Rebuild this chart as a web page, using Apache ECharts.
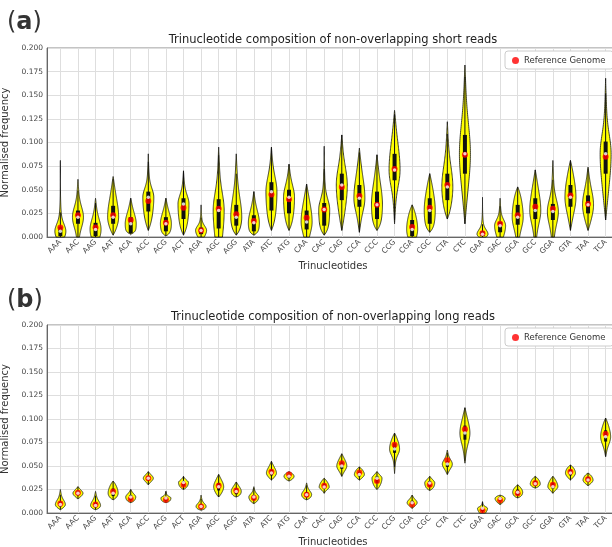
<!DOCTYPE html>
<html><head><meta charset="utf-8">
<script src="https://cdn.jsdelivr.net/npm/echarts@6/dist/echarts.min.js"></script>
<style>html,body{margin:0;padding:0;background:#fff}#c{width:612px;height:547px}</style>
</head><body><div id="c"></div>
<script>
const cats = ['AAA','AAC','AAG','AAT','ACA','ACC','ACG','ACT','AGA','AGC','AGG','ATA','ATC','ATG','CAA','CAC','CAG','CCA','CCC','CCG','CGA','CGC','CTA','CTC','GAA','GAC','GCA','GCC','GGA','GTA','TAA','TCA'];
const yTicks = [0,0.025,0.05,0.075,0.1,0.125,0.15,0.175,0.2];

// Panel (a): short reads
const shortMin = [0,0,0,.002,.003,.007,.001,.002,0,0,.002,.002,.007,.007,0,.002,.007,.005,.007,.014,0,.005,.019,.014,0,0,0,0,0,.007,.007,.018];
const shortMax = [.081,.061,.041,.064,.041,.088,.041,.070,.034,.095,.088,.048,.095,.077,.056,.096,.108,.094,.087,.134,.034,.067,.122,.182,.042,.041,.053,.071,.081,.081,.074,.168];
const shortQ1  = [.001,.014,.001,.014,.004,.027,.006,.019,.003,.009,.012,.006,.028,.025,.008,.012,.039,.032,.019,.060,.001,.014,.039,.067,.001,.005,.013,.019,.018,.032,.025,.067];
const shortMed = [.006,.021,.008,.021,.014,.042,.014,.035,.007,.028,.021,.015,.048,.042,.016,.029,.055,.041,.034,.071,.008,.028,.053,.088,.003,.012,.021,.028,.027,.042,.034,.088];
const shortQ3  = [.011,.028,.015,.033,.021,.048,.021,.041,.010,.040,.034,.023,.058,.050,.028,.036,.067,.055,.048,.088,.018,.041,.067,.108,.006,.016,.034,.041,.035,.055,.044,.101];
const shortRef = [.010,.023,.010,.023,.018,.038,.015,.031,.007,.030,.024,.017,.045,.040,.0205,.029,.053,.0435,.034,.072,.0105,.031,.055,.087,.004,.014,.023,.032,.030,.044,.035,.085];

// Panel (b): long reads
const longMin = [.0035,.015,.0035,.014,.011,.030,.011,.025,.003,.017,.017,.010,.035,.034,.014,.021,.039,.035,.025,.042,.005,.024,.041,.053,0,.009,.016,.0265,.021,.035,.029,.060];
const longMax = [.025,.028,.023,.034,.025,.044,.023,.039,.019,.041,.033,.028,.055,.044,.032,.037,.063,.049,.044,.085,.019,.039,.067,.112,.012,.019,.030,.039,.039,.051,.0425,.101];
const longQ1  = [.007,.019,.006,.018,.014,.035,.013,.029,.005,.024,.020,.014,.040,.037,.017,.026,.047,.039,.032,.064,.009,.028,.049,.078,.002,.013,.019,.029,.026,.040,.033,.076];
const longMed = [.009,.021,.008,.021,.017,.037,.016,.0325,.007,.028,.023,.017,.0425,.039,.0195,.0276,.050,.041,.037,.068,.011,.032,.052,.085,.005,.0155,.022,.031,.028,.0425,.035,.081];
const longQ3  = [.012,.023,.011,.026,.019,.039,.017,.034,.009,.032,.026,.019,.046,.041,.022,.031,.054,.044,.039,.074,.013,.034,.055,.093,.006,.017,.025,.034,.032,.046,.038,.088];
const longRef = [.010,.0215,.009,.023,.015,.037,.014,.030,.007,.029,.024,.016,.044,.041,.0195,.029,.053,.043,.034,.0725,.009,.030,.056,.089,.003,.0135,.021,.032,.030,.044,.036,.084];

const FONT = 'DejaVu Sans';

function violinRender(mn, mx, q1a, meda, q3a, halfPx, boxPx) {
  return function (params, api) {
    const i = params.dataIndex;
    const lo = mn[i], hi = mx[i], q1 = q1a[i], m = meda[i], q3 = q3a[i];
    const su = Math.max((q3 - m) / 0.6745, 0.0015);
    const sl = Math.max((m - q1) / 0.6745, 0.0015);
    const f = (y) => {
      const d = y >= m ? (y - m) / su : (m - y) / sl;
      let v = 0.75 * Math.exp(-0.5 * d * d) + 0.25 * Math.exp(-0.5 * (d / 2.5) * (d / 2.5));
      if (y >= m) {
        const u = Math.max(0, (hi - y) / Math.max(hi - m, 1e-6));
        v *= 1 - Math.pow(1 - Math.min(u, 1), 6);
      } else if (lo > 0) {
        const l = Math.max(0, (y - lo) / Math.max(m - lo, 1e-6));
        v *= 1 - Math.pow(1 - Math.min(l, 1), 6);
      }
      return v;
    };
    const y0 = lo > 0 ? lo : 0;
    const N = 80;
    const right = [], left = [];
    for (let k = 0; k <= N; k++) {
      const y = y0 + (hi - y0) * k / N;
      const p = api.coord([i, y]);
      const w = halfPx * f(y);
      right.push([p[0] + w, p[1]]);
      left.push([p[0] - w, p[1]]);
    }
    const pts = right.concat(left.reverse());
    const iqr = q3 - q1;
    const wl = Math.max(y0, q1 - 1.5 * iqr), wh = Math.min(hi, q3 + 1.5 * iqr);
    const pwl = api.coord([i, wl]), pwh = api.coord([i, wh]);
    const pq1 = api.coord([i, q1]), pq3 = api.coord([i, q3]);
    return {
      type: 'group',
      children: [
        { type: 'polygon', shape: { points: pts }, style: { fill: '#ffff00', stroke: '#111', lineWidth: 0.8 } },
        { type: 'line', shape: { x1: pwl[0], y1: pwl[1], x2: pwh[0], y2: pwh[1] }, style: { stroke: '#111', lineWidth: 1 } },
        { type: 'rect', shape: { x: pq3[0] - boxPx / 2, y: pq3[1], width: boxPx, height: Math.max(pq1[1] - pq3[1], 1) }, style: { fill: '#111' } }
      ]
    };
  };
}

const chart = echarts.init(document.getElementById('c'), null, { renderer: 'canvas' });
const idx = cats.map((c, i) => i);

function xAxisCfg(gi) {
  return {
    type: 'value', gridIndex: gi, min: -0.76, max: 31.76,
    name: 'Trinucleotides', nameLocation: 'middle', nameGap: 24,
    nameTextStyle: { fontFamily: FONT, fontSize: 10, color: '#333' },
    axisLine: { show: true, onZero: false, lineStyle: { color: '#666', width: 1 } },
    axisTick: { show: false, customValues: idx },
    axisLabel: { customValues: idx, formatter: v => cats[Math.round(v)], rotate: 45, fontFamily: FONT, fontSize: 7.5, color: '#444', margin: 4 },
    splitLine: { show: true, lineStyle: { color: '#dedede', width: 1 } }
  };
}
function yAxisCfg(gi) {
  return {
    type: 'value', gridIndex: gi, min: 0, max: 0.2, interval: 0.025,
    name: 'Normalised frequency', nameLocation: 'middle', nameGap: 31,
    nameTextStyle: { fontFamily: FONT, fontSize: 10, color: '#333' },
    axisLine: { show: true, onZero: false, lineStyle: { color: '#666', width: 1 } },
    axisTick: { show: false },
    axisLabel: { formatter: v => v.toFixed(3), fontFamily: FONT, fontSize: 7.5, color: '#444', margin: 4 },
    splitLine: { show: true, lineStyle: { color: '#dedede', width: 1 } }
  };
}
function legendCfg(top) {
  return {
    data: ['Reference Genome'], left: 505, top: top, orient: 'horizontal',
    backgroundColor: '#fff', borderColor: '#ccc', borderWidth: 1, borderRadius: 3,
    padding: [5, 8, 4, 7], itemWidth: 7, itemHeight: 7, itemGap: 6, icon: 'circle',
    textStyle: { fontFamily: FONT, fontSize: 8.5, color: '#333' }, selectedMode: false
  };
}

const option = {
  animation: false,
  backgroundColor: '#fff',
  grid: [
    { left: 47, right: -7, top: 48, height: 189, show: true, borderColor: '#888', borderWidth: 1, backgroundColor: 'transparent', outerBoundsMode: 'none' },
    { left: 47, right: -7, top: 325, height: 188, show: true, borderColor: '#888', borderWidth: 1, backgroundColor: 'transparent', outerBoundsMode: 'none' }
  ],
  xAxis: [xAxisCfg(0), xAxisCfg(1)],
  yAxis: [yAxisCfg(0), yAxisCfg(1)],
  legend: [legendCfg(51), legendCfg(328)],
  graphic: [
    { type: 'text', x: 7, y: 23, style: { text: '{p|(}{b|a}{p|)}', textVerticalAlign: 'middle', rich: { p: { fontFamily: FONT, fontSize: 24, fill: '#333' }, b: { fontFamily: FONT, fontSize: 24, fontWeight: 'bold', fill: '#333' } } } },
    { type: 'text', x: 333, y: 40, style: { text: 'Trinucleotide composition of non-overlapping short reads', textAlign: 'center', textVerticalAlign: 'middle', fontFamily: FONT, fontSize: 11.5, fill: '#222' } },
    { type: 'text', x: 7, y: 301, style: { text: '{p|(}{b|b}{p|)}', textVerticalAlign: 'middle', rich: { p: { fontFamily: FONT, fontSize: 24, fill: '#333' }, b: { fontFamily: FONT, fontSize: 24, fontWeight: 'bold', fill: '#333' } } } },
    { type: 'text', x: 333, y: 317, style: { text: 'Trinucleotide composition of non-overlapping long reads', textAlign: 'center', textVerticalAlign: 'middle', fontFamily: FONT, fontSize: 11.5, fill: '#222' } }
  ],
  series: [
    { type: 'custom', name: 'violinShort', xAxisIndex: 0, yAxisIndex: 0, z: 2,
      data: idx.map(i => [i, shortMed[i]]), encode: { x: 0, y: 1 },
      renderItem: violinRender(shortMin, shortMax, shortQ1, shortMed, shortQ3, 5.5, 4) },
    { type: 'scatter', name: 'Reference Genome', xAxisIndex: 0, yAxisIndex: 0, z: 3,
      data: idx.map(i => [i, shortRef[i]]), symbolSize: 6, itemStyle: { color: '#ff0000' } },
    { type: 'scatter', name: 'medianShort', xAxisIndex: 0, yAxisIndex: 0, z: 4,
      data: idx.map(i => [i, shortMed[i]]), symbolSize: 3.5, itemStyle: { color: '#ffffff' } },
    { type: 'custom', name: 'violinLong', xAxisIndex: 1, yAxisIndex: 1, z: 2,
      data: idx.map(i => [i, longMed[i]]), encode: { x: 0, y: 1 },
      renderItem: violinRender(longMin, longMax, longQ1, longMed, longQ3, 5, 3) },
    { type: 'scatter', name: 'Reference Genome', xAxisIndex: 1, yAxisIndex: 1, z: 3,
      data: idx.map(i => [i, longRef[i]]), symbolSize: 6, itemStyle: { color: '#ff0000' } },
    { type: 'scatter', name: 'medianLong', xAxisIndex: 1, yAxisIndex: 1, z: 4,
      data: idx.map(i => [i, longMed[i]]), symbolSize: 3.5, itemStyle: { color: '#ffffff' } }
  ]
};
chart.setOption(option);
</script></body></html>
